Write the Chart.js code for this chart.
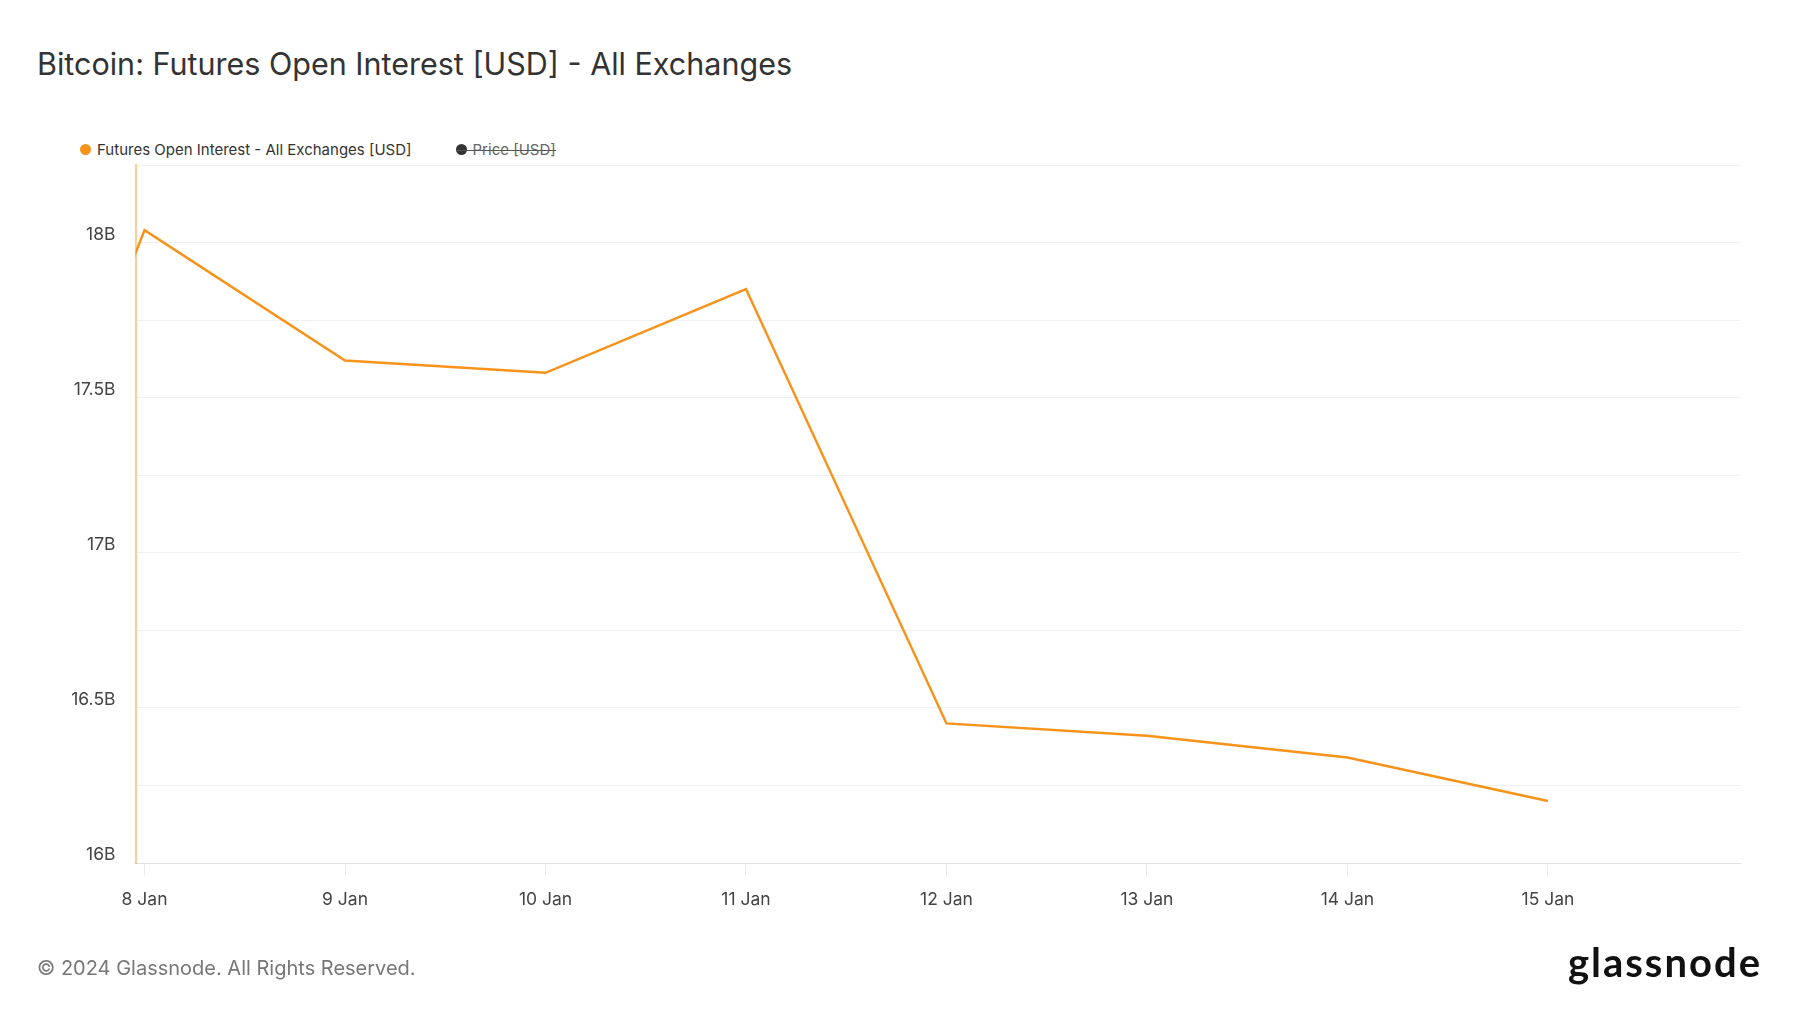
<!DOCTYPE html>
<html>
<head>
<meta charset="utf-8">
<title>Bitcoin: Futures Open Interest [USD] - All Exchanges</title>
<script src="https://cdn.jsdelivr.net/npm/chart.js@4.4.1/dist/chart.umd.min.js"></script>
<style>
  html, body { margin: 0; padding: 0; background: #fff; }
  body { width: 1800px; height: 1013px; position: relative; overflow: hidden; font-family: Inter, "Noto Sans", sans-serif; }
  #title { position: absolute; left: 37px; top: 45px; font-size: 30.5px; font-weight: 400; color: #333; white-space: nowrap; }
  #legend { position: absolute; left: 80px; top: 140px; font-size: 15px; color: #333; white-space: nowrap; display: flex; align-items: center; }
  .item { display: inline-flex; align-items: center; position: relative; }
  .dot { width: 11px; height: 11px; border-radius: 50%; display: inline-block; margin-right: 6px; }
  .off { color: #666; margin-left: 44px; }
  .off .strike { position: absolute; left: 0; right: 0; top: 50%; border-top: 1px solid #555; }
  #chart-wrap { position: absolute; left: 0; top: 0; width: 1800px; height: 1013px; }
  #footer { position: absolute; left: 37px; top: 956px; font-size: 20px; color: #777; white-space: nowrap; }
  #logo { position: absolute; right: 38px; top: 938px; font-family: Lato, sans-serif; font-weight: 700; font-size: 40px; color: #111; letter-spacing: 2px; }
</style>
</head>
<body>
<div id="title">Bitcoin: Futures Open Interest [USD] - All Exchanges</div>
<div id="legend">
  <span class="item"><span class="dot" style="background:#f7931a"></span>Futures Open Interest - All Exchanges [USD]</span>
  <span class="item off"><span class="dot" style="background:#333"></span>Price [USD]<span class="strike"></span></span>
</div>
<div id="chart-wrap"><canvas id="grafico"></canvas></div>
<div id="footer">© 2024 Glassnode. All Rights Reserved.</div>
<div id="logo">glassnode</div>

<script>
// Datos: interés abierto diario (miles de millones USD)
const fechas = ['2024-01-07', '2024-01-08', '2024-01-09', '2024-01-10', '2024-01-11', '2024-01-12', '2024-01-13', '2024-01-14', '2024-01-15'];
const interesAbierto = [16.38, 18.04, 17.62, 17.58, 17.85, 16.45, 16.41, 16.34, 16.20];
const etiquetasX = ['8 Jan', '9 Jan', '10 Jan', '11 Jan', '12 Jan', '13 Jan', '14 Jan', '15 Jan'];
const ticksY = [16, 16.5, 17, 17.5, 18];

const colorNaranja = '#f7931a';
const inicio = Date.parse('2024-01-08');
const dia = 86400000;

// Puntos {x: días desde 8 Jan, y: valor}
const puntos = fechas.map((f, i) => ({ x: (Date.parse(f) - inicio) / dia, y: interesAbierto[i] }));

const ctx = document.getElementById('grafico').getContext('2d');
new Chart(ctx, {
    type: 'line',
    data: {
        datasets: [{
            label: 'Futures Open Interest - All Exchanges [USD]',
            data: puntos,
            borderColor: colorNaranja,
            borderWidth: 2.5,
            pointRadius: 0,
            tension: 0,
            fill: false
        }]
    },
    options: {
        responsive: true,
        maintainAspectRatio: false,
        animation: false,
        layout: { padding: { top: 165, left: 35, right: 60, bottom: 100 } },
        plugins: {
            legend: { display: false },
            tooltip: { enabled: false }
        },
        scales: {
            x: {
                type: 'linear',
                min: -0.045,
                max: 7.958,
                afterBuildTicks: (scale) => {
                    scale.ticks = etiquetasX.map((_, i) => ({ value: i }));
                },
                afterFit: (scale) => { scale.height = 50; },
                ticks: {
                    color: '#444',
                    font: { family: 'Inter', size: 17.5 },
                    padding: 13,
                    maxRotation: 0,
                    autoSkip: false,
                    callback: (v) => etiquetasX[Math.round(v)]
                },
                grid: {
                    drawOnChartArea: false,
                    drawTicks: true,
                    tickLength: 13,
                    color: '#ebebeb'
                },
                border: { color: '#e2e2e2', width: 1 }
            },
            y: {
                min: 16,
                max: 18.25,
                afterFit: (scale) => { scale.width = 100.5; },
                ticks: {
                    stepSize: 0.25,
                    color: '#444',
                    font: { family: 'Inter', size: 17.5 },
                    padding: 20,
                    labelOffset: -8,
                    callback: (v) => ticksY.includes(v) ? v + 'B' : ''
                },
                grid: {
                    drawTicks: false,
                    color: '#f0f0f0'
                },
                border: { color: 'rgba(247,147,26,0.45)', width: 2 }
            }
        }
    }
});
</script>
</body>
</html>
